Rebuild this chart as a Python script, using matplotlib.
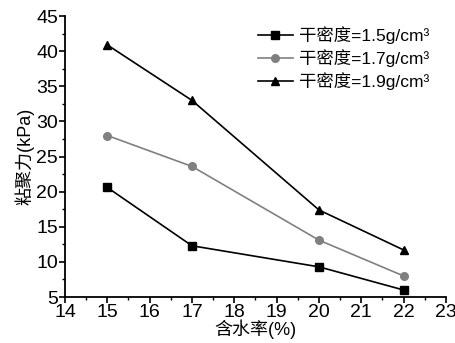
import numpy as np
import matplotlib
matplotlib.use("Agg")
import matplotlib.pyplot as plt

plt.rcParams['font.family'] = ['Liberation Sans', 'Noto Sans CJK SC', 'DejaVu Sans']

# ── Data ──────────────────────────────────────────────────────────────────────
water = [15, 17, 20, 22]
coh_15 = [20.6, 12.3, 9.3, 6.0]
coh_17 = [28.0, 23.6, 13.1, 8.0]
coh_19 = [40.9, 33.0, 17.4, 11.7]
labels = ["干密度=1.5g/cm³", "干密度=1.7g/cm³", "干密度=1.9g/cm³"]

# ── Plot ──────────────────────────────────────────────────────────────────────
fig = plt.figure(figsize=(4.56, 3.43), dpi=100)
ax = fig.add_axes([0.1425, 0.134, 0.8355, 0.819])

ax.plot(water, coh_15, color="black", marker="s", ms=5.5, lw=1.2, label=labels[0])
ax.plot(water, coh_17, color="#808080", marker="o", ms=5.5, lw=1.2, label=labels[1])
ax.plot(water, coh_19, color="black", marker="^", ms=5.5, lw=1.2, label=labels[2])

ax.set_xlim(14, 23); ax.set_ylim(5, 45)
ax.set_xticks(np.arange(14, 24, 1))
ax.set_yticks(np.arange(5, 50, 5))
ax.set_xticks(np.arange(14.5, 23, 1), minor=True)
ax.set_yticks(np.arange(7.5, 45, 5), minor=True)
ax.tick_params(which='major', direction='out', length=4, width=1.2, labelsize=14, pad=1)
ax.tick_params(which='minor', direction='out', length=2.5, width=1)
for s in ['top', 'right']:
    ax.spines[s].set_visible(False)
for s in ['left', 'bottom']:
    ax.spines[s].set_linewidth(1.3)

ax.set_xlabel("含水率(%)", fontsize=13, labelpad=-1)
ax.set_ylabel("粘聚力(kPa)", fontsize=13, labelpad=1)

ax.legend(loc="upper right", bbox_to_anchor=(0.985, 1.0), frameon=False, fontsize=12.5,
          handlelength=2.0, handletextpad=0.4, labelspacing=0.3, borderaxespad=0.2)

plt.savefig("out.png", dpi=100)
